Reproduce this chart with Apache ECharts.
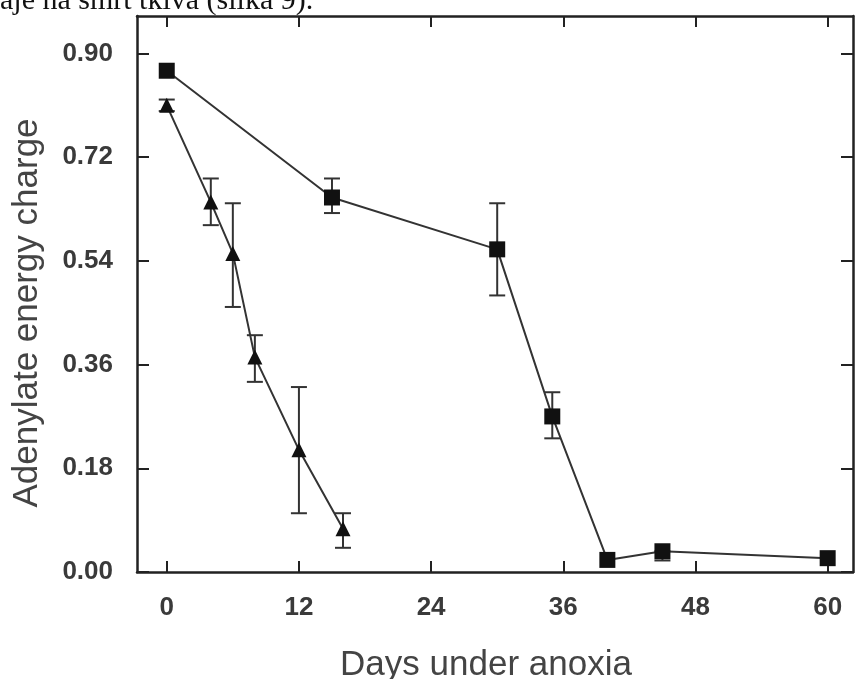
<!DOCTYPE html>
<html lang="en">
<head>
    <meta charset="UTF-8">
    <title>Adenylate energy charge</title>
    <script src="https://cdn.jsdelivr.net/npm/echarts@6/dist/echarts.min.js"></script>
    <style>
        html, body {margin: 0; padding: 0; background: #fff;}
    </style>
</head>
<body>
<div id="chart" style="width: 856px;height: 679px;"></div>

<script type="text/javascript">
    // days, mean, error low, error high
    var triDays = [0, 4, 6, 8, 12, 16];
    var triVals = [0.81, 0.642, 0.553, 0.373, 0.212, 0.075];
    var triLow = [0.80, 0.602, 0.460, 0.330, 0.102, 0.042];
    var triHigh = [0.82, 0.683, 0.640, 0.411, 0.321, 0.102];

    var sqDays = [0, 15, 30, 35, 40, 45, 60];
    var sqVals = [0.870, 0.650, 0.560, 0.270, 0.021, 0.036, 0.024];
    var sqLow = [0.870, 0.623, 0.480, 0.232, 0.021, 0.020, 0.024];
    var sqHigh = [0.870, 0.683, 0.640, 0.312, 0.021, 0.036, 0.024];

    var xTicks = [0, 12, 24, 36, 48, 60];
    var yTicks = [0, 0.18, 0.36, 0.54, 0.72, 0.90];

    function pairs(xs, ys) {
        return xs.map(function (x, i) { return [x, ys[i]]; });
    }
    function errRows(xs, lo, hi) {
        return xs.map(function (x, i) { return [x, lo[i], hi[i]]; });
    }

    function errorBar(params, api) {
        var lo = api.coord([api.value(0), api.value(1)]);
        var hi = api.coord([api.value(0), api.value(2)]);
        if (Math.abs(lo[1] - hi[1]) < 4) return;
        var w = 8;
        var st = {stroke: '#333', lineWidth: 2};
        return {
            type: 'group',
            children: [
                {type: 'line', shape: {x1: hi[0], y1: hi[1], x2: lo[0], y2: lo[1]}, style: st},
                {type: 'line', shape: {x1: hi[0] - w, y1: hi[1], x2: hi[0] + w, y2: hi[1]}, style: st},
                {type: 'line', shape: {x1: lo[0] - w, y1: lo[1], x2: lo[0] + w, y2: lo[1]}, style: st}
            ]
        };
    }

    var chart = echarts.init(document.getElementById('chart'));

    var labelFont = {
        color: '#3a3a3a',
        fontFamily: 'Liberation Sans',
        fontWeight: 'bold',
        fontSize: 26
    };
    var nameFont = {
        color: '#444',
        fontFamily: 'Liberation Sans',
        fontSize: 35
    };
    var lineSt = {color: '#222', width: 2.5};
    var tickSt = {color: '#222', width: 2};

    var option = {
        animation: false,
        backgroundColor: '#fff',
        graphic: [{
            type: 'text',
            left: 0,
            top: -14,
            style: {
                text: 'aje na smrt tkiva (slika 9).',
                font: '30px "Liberation Serif"',
                fill: '#111'
            }
        }],
        grid: {left: 137, right: 3, top: 16, bottom: 107, containLabel: false, outerBoundsMode: 'none'},
        xAxis: [{
            type: 'value',
            position: 'bottom',
            min: -2.7,
            max: 62.3,
            name: 'Days under anoxia',
            nameLocation: 'middle',
            nameGap: 76,
            nameTextStyle: Object.assign({padding: [0, 18, 0, 0]}, nameFont),
            axisLine: {lineStyle: lineSt},
            axisTick: {inside: true, length: 11, customValues: xTicks, lineStyle: tickSt},
            axisLabel: Object.assign({margin: 23, customValues: xTicks}, labelFont),
            splitLine: {show: false}
        }, {
            type: 'value',
            position: 'top',
            min: -2.7,
            max: 62.3,
            axisLine: {onZero: false, lineStyle: lineSt},
            axisTick: {inside: true, length: 11, customValues: xTicks, lineStyle: tickSt},
            axisLabel: {show: false},
            splitLine: {show: false}
        }],
        yAxis: [{
            type: 'value',
            position: 'left',
            min: 0,
            max: 0.965,
            name: 'Adenylate energy charge',
            nameLocation: 'middle',
            nameGap: 92,
            nameTextStyle: Object.assign({padding: [0, 38, 0, 0]}, nameFont),
            axisLine: {show: true, onZero: false, lineStyle: lineSt},
            axisTick: {show: true, inside: true, length: 12, customValues: yTicks, lineStyle: tickSt},
            axisLabel: Object.assign({
                margin: 24,
                customValues: yTicks,
                formatter: function (v) { return v.toFixed(2); }
            }, labelFont),
            splitLine: {show: false}
        }, {
            type: 'value',
            position: 'right',
            min: 0,
            max: 0.965,
            axisLine: {show: true, onZero: false, lineStyle: lineSt},
            axisTick: {show: true, inside: true, length: 12, customValues: yTicks, lineStyle: tickSt},
            axisLabel: {show: false},
            splitLine: {show: false}
        }],
        series: [
            {
                type: 'custom',
                renderItem: errorBar,
                data: errRows(triDays, triLow, triHigh),
                z: 1
            },
            {
                type: 'custom',
                renderItem: errorBar,
                data: errRows(sqDays, sqLow, sqHigh),
                z: 1
            },
            {
                type: 'line',
                data: pairs(triDays, triVals),
                symbol: 'triangle',
                symbolSize: 15,
                lineStyle: {color: '#333', width: 2},
                itemStyle: {color: '#111'},
                z: 3
            },
            {
                type: 'line',
                data: pairs(sqDays, sqVals),
                symbol: 'rect',
                symbolSize: 16,
                lineStyle: {color: '#333', width: 2},
                itemStyle: {color: '#111'},
                z: 3
            }
        ]
    };

    chart.setOption(option);
</script>
</body>
</html>
